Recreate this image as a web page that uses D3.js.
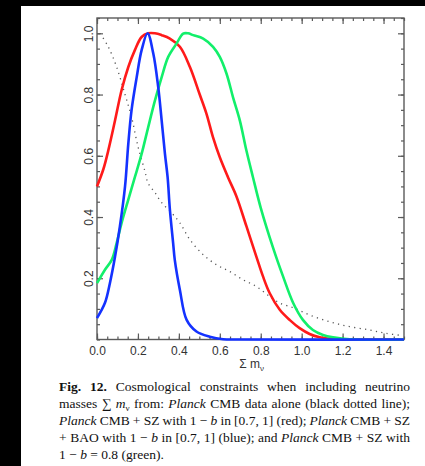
<!DOCTYPE html>
<html>
<head>
<meta charset="utf-8">
<script src="https://cdn.jsdelivr.net/npm/d3@7"></script>
<style>
  body { margin: 0; background: #fff; }
  svg { display: block; }
</style>
</head>
<body>
<div id="chart"></div>
<script>
// Planck CMB alone (black dotted)
const cmbMass = [0.015, 0.055, 0.096, 0.137, 0.169, 0.201, 0.234, 0.25, 0.283, 0.316, 0.364, 0.405, 0.454, 0.519, 0.584, 0.649, 0.714, 0.779, 0.844, 0.893, 0.966, 1.039, 1.137, 1.234, 1.332, 1.413, 1.49];
const cmbProb = [1.0, 0.956, 0.89, 0.80, 0.726, 0.628, 0.55, 0.51, 0.48, 0.447, 0.414, 0.381, 0.326, 0.277, 0.244, 0.222, 0.195, 0.173, 0.14, 0.119, 0.102, 0.08, 0.058, 0.042, 0.031, 0.02, 0.013];

// CMB + SZ, 1-b in [0.7,1] (red)
const szMass = [0, 0.031, 0.055, 0.088, 0.12, 0.153, 0.185, 0.218, 0.25, 0.283, 0.316, 0.356, 0.405, 0.454, 0.502, 0.535, 0.567, 0.6, 0.64, 0.681, 0.73, 0.779, 0.811, 0.844, 0.893, 0.941, 0.99, 1.039, 1.088, 1.137, 1.2, 1.3, 1.5];
const szProb = [0.50, 0.556, 0.617, 0.715, 0.814, 0.89, 0.945, 0.988, 1.0, 1.0, 0.994, 0.983, 0.956, 0.89, 0.80, 0.737, 0.66, 0.595, 0.53, 0.468, 0.37, 0.27, 0.206, 0.151, 0.097, 0.064, 0.037, 0.018, 0.007, 0.002, 0, 0, 0];

// CMB + SZ, 1-b = 0.8 (green)
const szFixedMass = [0, 0.039, 0.072, 0.096, 0.12, 0.153, 0.185, 0.218, 0.25, 0.283, 0.316, 0.348, 0.389, 0.421, 0.445, 0.47, 0.519, 0.567, 0.6, 0.633, 0.665, 0.698, 0.73, 0.762, 0.8, 0.86, 0.909, 0.958, 1.006, 1.055, 1.104, 1.153, 1.201, 1.26, 1.5];
const szFixedProb = [0.184, 0.228, 0.26, 0.315, 0.38, 0.457, 0.53, 0.606, 0.693, 0.78, 0.857, 0.923, 0.967, 0.999, 1.0, 0.994, 0.983, 0.956, 0.923, 0.868, 0.79, 0.715, 0.617, 0.53, 0.43, 0.30, 0.206, 0.12, 0.064, 0.031, 0.015, 0.007, 0.003, 0, 0];

// CMB + SZ + BAO, 1-b in [0.7,1] (blue)
const baoMass = [0, 0.039, 0.063, 0.088, 0.112, 0.137, 0.153, 0.169, 0.194, 0.218, 0.247, 0.275, 0.299, 0.316, 0.332, 0.345, 0.356, 0.372, 0.38, 0.405, 0.438, 0.486, 0.551, 0.616, 0.7, 1.5];
const baoProb = [0.07, 0.12, 0.184, 0.27, 0.37, 0.50, 0.64, 0.75, 0.857, 0.945, 1.0, 0.934, 0.825, 0.715, 0.606, 0.53, 0.425, 0.315, 0.26, 0.162, 0.064, 0.026, 0.009, 0.001, 0, 0];

const xTickLabels = ["0.0", "0.2", "0.4", "0.6", "0.8", "1.0", "1.2", "1.4"];
const yTickLabels = ["0.2", "0.4", "0.6", "0.8", "1.0"];

// caption, one entry per printed line; segments: [text, style]
const captionLines = [
  [["Fig. 12.", "b"], [" Cosmological constraints when including neutrino", ""]],
  [["masses \u2211 ", ""], ["m", "i"], ["\u03bd", "sub"], [" from: ", ""], ["Planck", "i"], [" CMB data alone (black dotted line);", ""]],
  [["Planck", "i"], [" CMB + SZ with 1 \u2212 ", ""], ["b", "i"], [" in [0.7, 1] (red); ", ""], ["Planck", "i"], [" CMB + SZ", ""]],
  [["+ BAO with 1 \u2212 ", ""], ["b", "i"], [" in [0.7, 1] (blue); and ", ""], ["Planck", "i"], [" CMB + SZ with", ""]],
  [["1 \u2212 ", ""], ["b", "i"], [" = 0.8 (green).", ""]]
];

function renderChart() {
  const width = 425, height = 466;
  const plot = { left: 97, right: 404, top: 18, bottom: 339.5 };

  const svg = d3.select("#chart")
    .append("svg")
    .attr("width", width)
    .attr("height", height);

  // black page edges from the scan
  svg.append("rect").attr("x", 0).attr("y", 0).attr("width", width).attr("height", 6).attr("fill", "#000");
  svg.append("rect").attr("x", 0).attr("y", 0).attr("width", 21).attr("height", height).attr("fill", "#000");

  const x = d3.scaleLinear().domain([0, 1.5]).range([plot.left, plot.right]);
  const y = d3.scaleLinear().domain([0, 1.05]).range([plot.bottom, plot.top]);

  const axisColor = "#5a5a5a";
  const minorX = d3.range(0, 1.5001, 0.05);
  const minorY = d3.range(0, 1.0501, 0.05);
  const majorX = xTickLabels.map(Number);
  const majorY = yTickLabels.map(Number);

  function styleAxis(g) {
    g.select(".domain").remove();
    g.selectAll("line").attr("stroke", axisColor).attr("stroke-width", 1.2);
    g.selectAll("text")
      .attr("fill", "#333")
      .style("font-family", "'Liberation Sans', Arial, sans-serif")
      .style("font-size", "12px");
  }

  // minor ticks, all four sides, pointing inward
  svg.append("g").attr("transform", `translate(0,${plot.bottom})`)
    .call(d3.axisBottom(x).tickValues(minorX).tickSize(-3).tickFormat(""))
    .call(styleAxis);
  svg.append("g").attr("transform", `translate(0,${plot.top})`)
    .call(d3.axisTop(x).tickValues(minorX).tickSize(-3).tickFormat(""))
    .call(styleAxis);
  svg.append("g").attr("transform", `translate(${plot.left},0)`)
    .call(d3.axisLeft(y).tickValues(minorY).tickSize(-3).tickFormat(""))
    .call(styleAxis);
  svg.append("g").attr("transform", `translate(${plot.right},0)`)
    .call(d3.axisRight(y).tickValues(minorY).tickSize(-3).tickFormat(""))
    .call(styleAxis);

  // major ticks + labels
  svg.append("g").attr("transform", `translate(0,${plot.bottom})`)
    .call(d3.axisBottom(x).tickValues(majorX).tickSizeInner(-6).tickSizeOuter(0).tickPadding(6.5)
      .tickFormat((d, i) => xTickLabels[i]))
    .call(styleAxis);
  svg.append("g").attr("transform", `translate(0,${plot.top})`)
    .call(d3.axisTop(x).tickValues(majorX).tickSize(-6).tickFormat(""))
    .call(styleAxis);
  svg.append("g").attr("transform", `translate(${plot.left},0)`)
    .call(d3.axisLeft(y).tickValues(majorY).tickSizeInner(-6).tickSizeOuter(0)
      .tickFormat((d, i) => yTickLabels[i]))
    .call(styleAxis)
    .selectAll("text")
      .attr("transform", "rotate(-90)")
      .attr("x", 0)
      .attr("y", -4)
      .attr("dy", 0)
      .attr("text-anchor", "middle");
  svg.append("g").attr("transform", `translate(${plot.right},0)`)
    .call(d3.axisRight(y).tickValues(majorY).tickSize(-6).tickFormat(""))
    .call(styleAxis);

  // frame
  svg.append("rect")
    .attr("x", plot.left)
    .attr("y", plot.top)
    .attr("width", plot.right - plot.left)
    .attr("height", plot.bottom - plot.top)
    .attr("fill", "none")
    .attr("stroke", axisColor)
    .attr("stroke-width", 1.4);

  // curves
  const line = d3.line()
    .x(d => x(d[0]))
    .y(d => y(Math.max(0, d[1])))
    .curve(d3.curveCatmullRom.alpha(0.5));

  const zip = (a, b) => a.map((v, i) => [v, b[i]]);

  svg.append("path")
    .datum(zip(cmbMass, cmbProb))
    .attr("d", line)
    .attr("fill", "none")
    .attr("stroke", "#555")
    .attr("stroke-width", 1.3)
    .attr("stroke-dasharray", "1.2,4.3");

  const series = [
    { mass: szMass, prob: szProb, color: "#ff1a1a" },
    { mass: szFixedMass, prob: szFixedProb, color: "#12ef6a" },
    { mass: baoMass, prob: baoProb, color: "#1432ff" }
  ];

  series.forEach(s => {
    svg.append("path")
      .datum(zip(s.mass, s.prob))
      .attr("d", line)
      .attr("fill", "none")
      .attr("stroke", s.color)
      .attr("stroke-width", 2.6)
      .attr("stroke-linejoin", "round");
  });

  // x axis title: Σ m_ν
  const xTitle = svg.append("text")
    .attr("x", x(0.755))
    .attr("y", 368)
    .attr("text-anchor", "middle")
    .attr("fill", "#333")
    .style("font-family", "'Liberation Sans', Arial, sans-serif")
    .style("font-size", "12px");
  xTitle.append("tspan").text("\u03a3 m");
  xTitle.append("tspan").attr("dy", 3).style("font-size", "8px").text("\u03bd");

  // caption, justified like the journal column
  const capLeft = 59, capRight = 410;
  const capTop = 391, capStep = 17;

  captionLines.forEach((segs, li) => {
    const t = svg.append("text")
      .attr("x", capLeft)
      .attr("y", capTop + li * capStep)
      .attr("fill", "#111")
      .style("font-family", "'Liberation Serif', 'Times New Roman', serif")
      .style("font-size", "13.5px")
      .style("white-space", "pre");

    let shift = 0;
    segs.forEach(([str, kind]) => {
      const sp = t.append("tspan").text(str);
      if (kind === "b") sp.style("font-weight", "bold");
      if (kind === "i") sp.style("font-style", "italic");
      if (kind === "sub") {
        sp.attr("dy", 3).style("font-size", "9px");
        shift = -3;
      } else if (shift) {
        sp.attr("dy", shift);
        shift = 0;
      }
    });

    if (li < captionLines.length - 1) {
      const full = segs.map(s => s[0]).join("");
      const gaps = (full.match(/ /g) || []).length;
      const natural = t.node().getComputedTextLength();
      const extra = (capRight - capLeft - natural) / gaps;
      t.style("word-spacing", `${extra}px`);
    }
  });
}

renderChart();
</script>
</body>
</html>
